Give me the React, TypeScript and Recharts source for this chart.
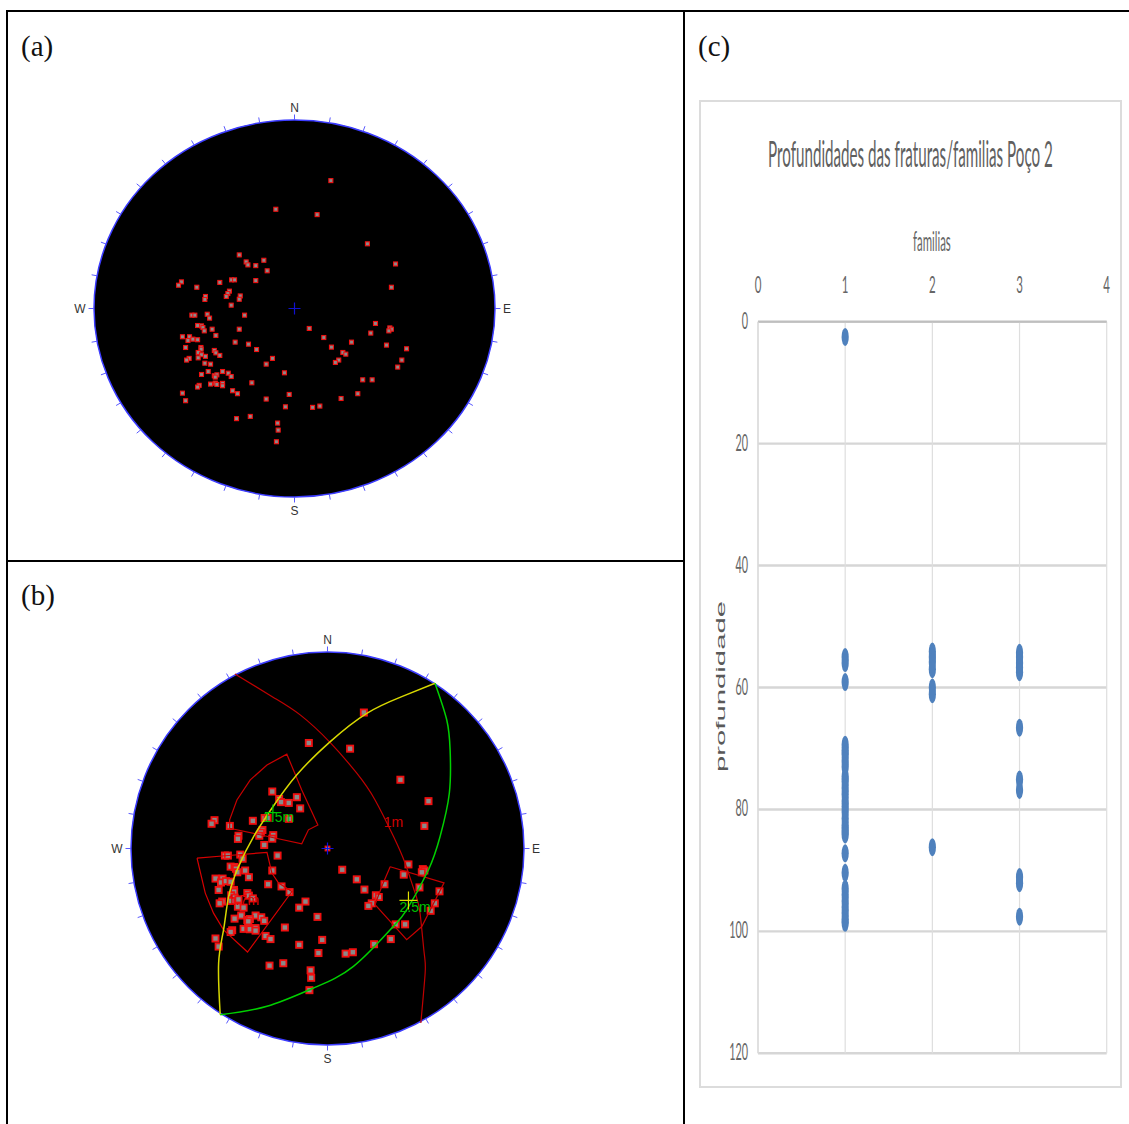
import React from 'react';
import {
  CartesianGrid,
  Scatter,
  ScatterChart,
  XAxis,
  YAxis,
} from 'recharts';

type Pt = { x: number; y: number };
const toPts = (rows: number[][]): Pt[] => rows.map(([x, y]) => ({ x, y }));

const poles = toPts([
  [18.5, 69.2], [-9.5, 53.7], [11.5, 50.8], [37.1, 35.0], [51.4, 24.1], [49.3, 11.5],
  [41.2, -8.1], [48.5, -10.5], [49.3, -11.2], [48.0, -12.1], [38.8, -13.3], [7.5, -10.8],
  [14.9, -15.7], [29.0, -18.2], [46.8, -19.8], [18.8, -20.9], [57.0, -21.8], [24.6, -23.8],
  [26.1, -24.7], [22.5, -27.9], [20.8, -29.2], [54.6, -27.9], [52.5, -31.7], [34.7, -38.6],
  [39.5, -38.6], [32.2, -46.1], [23.7, -48.7], [12.9, -52.8], [9.2, -53.5], [-2.7, -46.5],
  [-4.6, -53.2], [-5.1, -34.8], [-8.6, -62.0], [-8.3, -65.8], [-9.2, -72.1], [-14.4, -49.0],
  [-22.5, -58.4], [-29.5, -59.6], [-21.7, -40.2], [-11.2, -27.0], [-14.4, -30.1], [-19.3, -22.2],
  [-23.4, -19.3], [-30.2, -18.2], [-28.1, -11.2], [-25.4, -3.6], [-28.1, 29.0], [-24.6, 25.2],
  [-23.7, 23.6], [-19.7, 23.2], [-15.6, 26.1], [-13.9, 20.4], [-19.7, 15.1], [-32.0, 15.5],
  [-30.5, 15.5], [-38.0, 14.1], [-57.5, 14.4], [-59.0, 12.6], [-49.7, 11.5], [-33.1, 9.4],
  [-33.9, 8.1], [-34.7, 6.5], [-27.6, 6.8], [-28.1, 5.0], [-45.3, 6.5], [-45.6, 4.9],
  [-32.2, 1.8], [-52.2, -3.6], [-50.7, -3.6], [-44.4, -3.1], [-43.2, -5.2], [-49.3, -9.2],
  [-47.3, -9.4], [-46.6, -10.3], [-45.9, -12.1], [-41.9, -11.2], [-40.0, -14.6], [-57.0, -15.3],
  [-53.4, -15.3], [-54.2, -17.3], [-51.7, -16.6], [-49.3, -16.9], [-55.4, -21.1], [-47.6, -21.1],
  [-47.5, -22.0], [-40.8, -22.7], [-40.0, -24.0], [-38.0, -25.4], [-49.0, -23.8], [-47.3, -25.0],
  [-45.3, -25.9], [-49.0, -26.7], [-53.6, -27.0], [-54.9, -27.9], [-45.6, -29.6], [-42.7, -30.1],
  [-43.9, -34.1], [-47.3, -35.7], [-36.6, -34.1], [-33.7, -35.0], [-32.2, -36.8], [-40.8, -36.4],
  [-39.5, -35.9], [-40.3, -37.1], [-48.5, -41.6], [-49.3, -42.5], [-42.7, -40.9], [-40.3, -40.4],
  [-39.5, -41.1], [-36.6, -40.5], [-36.6, -41.8], [-31.5, -44.5], [-29.0, -46.1], [-57.0, -45.8],
  [-55.4, -49.9],
]);

const centrePole = toPts([[0, 0]]);
const centreMark = toPts([[0, 0]]);

// overlays on panel (b)
const redArc = toPts([
  [-47.1, 88.8], [-27.5, 76.9], [-13.9, 68.0], [1.4, 53.9], [14.9, 38.3], [24.2, 24.7], [33.6, 6.1],
  [39.5, -7.5], [44.6, -22.7], [47.1, -32.9], [49.2, -53.2], [49.7, -63.4], [47.5, -88.8],
]);
const yellowArc = toPts([
  [54.7, 84.1], [37.8, 77.3], [20.0, 68.8], [1.4, 54.4], [-15.6, 37.5], [-28.3, 20.5], [-37.6, 6.1],
  [-45.3, -9.2], [-50.3, -24.4], [-52.9, -41.4], [-55.4, -58.3], [-54.6, -84.6],
]);
const greenArc = toPts([
  [54.7, 84.1], [60.7, 65.4], [62.4, 50.2], [62.0, 28.1], [57.3, 6.1], [51.4, -10.8], [40.3, -31.2],
  [31.9, -41.4], [13.2, -60.0], [-7.1, -71.0], [-30.8, -80.3], [-54.6, -84.6],
]);
const windowNW = toPts([
  [-49.8, 10.3], [-49.8, 14.6], [-46.1, 24.7], [-39.3, 34.9], [-30.8, 42.5], [-20.7, 48.0],
  [-13.1, 29.8], [-4.9, 12.0], [-9.7, 9.5], [-13.1, 2.4], [-49.8, 10.3],
]);
const windowW = toPts([
  [-66.4, -4.9], [-52.0, -3.7], [-30.8, -2.0], [-28.3, -12.5], [-24.9, -17.6], [-18.1, -21.9],
  [-40.7, -52.7], [-52.9, -41.4], [-58.0, -32.9], [-62.2, -22.7], [-66.4, -4.9],
]);
const windowE = toPts([
  [31.9, -9.3], [59.3, -17.5], [48.0, -39.7], [40.3, -46.4], [24.2, -28.6], [27.6, -19.3], [31.9, -9.3],
]);
const greenCentroid = toPts([[-27.8, 18.3]]);
const yellowCentroid = toPts([[41.2, -26.4]]);
const setLabels = [
  { x: -24.9, y: 13.4, text: '1.5m', color: '#00c000' },
  { x: 44.6, y: -32.2, text: '2.5m', color: '#00c000' },
  { x: 33.6, y: 10.8, text: '1m', color: '#d00000' },
  { x: -42.7, y: -29.0, text: '1.7m', color: '#e00000' },
];

const rimAzimuths = [
  0, 10, 20, 30, 40, 50, 60, 70, 80, 90, 100, 110, 120, 130, 140, 150, 160, 170,
  180, 190, 200, 210, 220, 230, 240, 250, 260, 270, 280, 290, 300, 310, 320, 330, 340, 350,
];

// panel (c)
const familyTicks = [0, 1, 2, 3, 4];
const depthTicks = [0, 20, 40, 60, 80, 100, 120];
const family1Depths = [
  2.5, 55, 56, 59.1, 69.4, 70.3, 71, 72, 73, 74.6, 75.4, 76.5, 77.5, 78.6, 79.5, 80.4, 81.5, 82.6, 83.4, 84.1,
  87.2, 90.4, 93, 94, 95, 96, 97, 98, 98.6,
];
const family2Depths = [54.1, 55, 55.8, 57, 60, 61.1, 86.2];
const family3Depths = [54.3, 55, 56, 56.7, 57.5, 66.6, 75.1, 76.8, 91.1, 92.1, 97.6];

const RED = '#f01010';
const SERIF = '"Liberation Serif", serif';
const SANS = '"Liberation Sans", sans-serif';
const EXCEL = 'Lato, sans-serif';
const GREY_TEXT = '#666';

const noMark = () => null;

const poleMark = (size: number, border: number) => (p: any) => (
  <rect
    x={p.cx - size / 2}
    y={p.cy - size / 2}
    width={size}
    height={size}
    fill="#8a8a8a"
    stroke={RED}
    strokeWidth={border}
  />
);

const crossMark = (half: number, color: string, width = 1.2) => (p: any) => (
  <path
    d={`M${p.cx - half} ${p.cy}H${p.cx + half}M${p.cx} ${p.cy - half}V${p.cy + half}`}
    stroke={color}
    strokeWidth={width}
    fill="none"
  />
);

const noteMark = (p: any) => {
  const note = p.payload ?? p;
  return (
    <text x={p.cx} y={p.cy} textAnchor="middle" fontFamily={SANS} fontSize={14} fill={note.color}>
      {note.text}
    </text>
  );
};

function Rim({ cx, cy, rx, ry }: { cx: number; cy: number; rx: number; ry: number }) {
  const letters = [
    { t: 'N', x: cx, y: cy - ry - 12 },
    { t: 'E', x: cx + rx + 12, y: cy },
    { t: 'S', x: cx, y: cy + ry + 14 },
    { t: 'W', x: cx - rx - 14, y: cy },
  ];
  return (
    <g>
      <ellipse cx={cx} cy={cy} rx={rx} ry={ry} fill="#000" stroke="#3c3cff" strokeWidth={1.5} />
      {rimAzimuths.map((az) => {
        const a = (az * Math.PI) / 180;
        const s = Math.sin(a);
        const c = Math.cos(a);
        return (
          <line
            key={az}
            x1={cx + rx * s}
            y1={cy - ry * c}
            x2={cx + (rx + 5.5) * s}
            y2={cy - (ry + 5.5) * c}
            stroke="#5a5aff"
            strokeWidth={1}
          />
        );
      })}
      {letters.map((l) => (
        <text
          key={l.t}
          x={l.x}
          y={l.y + 4}
          textAnchor="middle"
          fontFamily={SANS}
          fontSize={12}
          fill="#333"
        >
          {l.t}
        </text>
      ))}
    </g>
  );
}

function Overlay({
  data,
  color,
  width = 1.2,
  smooth = false,
}: {
  data: Pt[];
  color: string;
  width?: number;
  smooth?: boolean;
}) {
  return (
    <Scatter
      data={data}
      line={{ stroke: color, strokeWidth: width }}
      lineJointType={smooth ? 'natural' : 'linear'}
      shape={noMark}
      isAnimationActive={false}
    />
  );
}

const PAD = 40;

function PanelA() {
  const rx = 200.5;
  const ry = 188.5;
  return (
    <div style={{ position: 'absolute', left: 94 - PAD, top: 120 - PAD }}>
      <ScatterChart
        width={2 * rx + 2 * PAD}
        height={2 * ry + 2 * PAD}
        margin={{ top: PAD, right: PAD, bottom: PAD, left: PAD }}
      >
        <XAxis type="number" dataKey="x" domain={[-102, 102]} hide />
        <YAxis type="number" dataKey="y" domain={[-102, 102]} hide />
        <Rim cx={PAD + rx} cy={PAD + ry} rx={rx} ry={ry} />
        <Scatter data={poles} shape={poleMark(4, 1.1)} isAnimationActive={false} />
        <Scatter data={centreMark} shape={crossMark(6, '#1010d0')} isAnimationActive={false} />
      </ScatterChart>
    </div>
  );
}

function PanelB() {
  const r = 196.5;
  return (
    <div style={{ position: 'absolute', left: 131 - PAD, top: 652 - PAD }}>
      <ScatterChart
        width={2 * r + 2 * PAD}
        height={2 * r + 2 * PAD}
        margin={{ top: PAD, right: PAD, bottom: PAD, left: PAD }}
      >
        <XAxis type="number" dataKey="x" domain={[-100, 100]} hide />
        <YAxis type="number" dataKey="y" domain={[-100, 100]} hide />
        <Rim cx={PAD + r} cy={PAD + r} rx={r} ry={r} />
        <Scatter data={poles} shape={poleMark(6.2, 1.8)} isAnimationActive={false} />
        <Scatter data={centrePole} shape={poleMark(4.5, 1.3)} isAnimationActive={false} />
        <Overlay data={redArc} color="#c00000" smooth />
        <Overlay data={windowNW} color="#c80000" />
        <Overlay data={windowW} color="#d80000" />
        <Overlay data={windowE} color="#c80000" />
        <Overlay data={yellowArc} color="#d8d800" width={1.5} smooth />
        <Overlay data={greenArc} color="#00d000" width={1.5} smooth />
        <Scatter data={centreMark} shape={crossMark(6, '#1010e0')} isAnimationActive={false} />
        <Scatter data={greenCentroid} shape={crossMark(8, '#00d000')} isAnimationActive={false} />
        <Scatter data={yellowCentroid} shape={crossMark(9, '#e0e000')} isAnimationActive={false} />
        <Scatter data={setLabels} shape={noteMark} isAnimationActive={false} />
      </ScatterChart>
    </div>
  );
}

const familyTick = (p: any) => (
  <text
    transform={`translate(${p.x},193) scale(0.5,1)`}
    textAnchor="middle"
    fontFamily={EXCEL}
    fontSize={23}
    fill={GREY_TEXT}
  >
    {p.payload.value}
  </text>
);

const depthTick = (p: any) => (
  <text
    transform={`translate(49,${p.y + 7}) scale(0.47,1)`}
    textAnchor="end"
    fontFamily={EXCEL}
    fontSize={23}
    fill={GREY_TEXT}
  >
    {p.payload.value}
  </text>
);

const depthMark = (p: any) => <ellipse cx={p.cx} cy={p.cy} rx={3.6} ry={9} fill="#4f81bd" />;

function PanelC() {
  const toRows = (family: number, depths: number[]) => depths.map((y) => ({ x: family, y }));
  return (
    <div style={{ position: 'absolute', left: 699, top: 100 }}>
      <ScatterChart
        width={423}
        height={988}
        margin={{ top: 191.7, right: 15.3, bottom: 34.7, left: 19 }}
      >
        <rect x={1} y={1} width={421} height={986} fill="none" stroke="#dcdcdc" strokeWidth={2} />
        <text
          transform="translate(69,67) scale(0.4,1)"
          textLength={712}
          lengthAdjust="spacingAndGlyphs"
          fontFamily={EXCEL}
          fontSize={36}
          fill="#5f5f5f"
        >
          Profundidades das fraturas/familias Poço 2
        </text>
        <text
          transform="translate(214,151) scale(0.45,1)"
          textLength={84}
          lengthAdjust="spacingAndGlyphs"
          fontFamily={EXCEL}
          fontSize={27}
          fill={GREY_TEXT}
        >
          familias
        </text>
        <text
          transform="translate(26,672) rotate(-90)"
          textLength={171}
          lengthAdjust="spacingAndGlyphs"
          fontFamily={SANS}
          fontSize={12}
          fill="#595959"
        >
          profundidade
        </text>
        <CartesianGrid vertical={false} stroke="#d6d6d6" strokeWidth={2.4} />
        <CartesianGrid horizontal={false} stroke="#dedede" strokeWidth={1.2} />
        <XAxis
          type="number"
          dataKey="x"
          orientation="top"
          domain={[0, 4]}
          ticks={familyTicks}
          height={30}
          tick={familyTick}
          tickLine={false}
          axisLine={{ stroke: '#bfbfbf', strokeWidth: 2 }}
        />
        <YAxis
          type="number"
          dataKey="y"
          reversed
          domain={[0, 120]}
          ticks={depthTicks}
          width={40}
          tick={depthTick}
          tickLine={false}
          axisLine={{ stroke: '#d9d9d9', strokeWidth: 1.2 }}
        />
        <Scatter data={toRows(1, family1Depths)} shape={depthMark} isAnimationActive={false} />
        <Scatter data={toRows(2, family2Depths)} shape={depthMark} isAnimationActive={false} />
        <Scatter data={toRows(3, family3Depths)} shape={depthMark} isAnimationActive={false} />
      </ScatterChart>
    </div>
  );
}

const rule: React.CSSProperties = { position: 'absolute', background: '#000' };
const caption: React.CSSProperties = {
  position: 'absolute',
  fontFamily: SERIF,
  fontSize: 29,
  lineHeight: '30px',
  color: '#111',
};

export default function App() {
  return (
    <div
      style={{
        position: 'absolute',
        left: 0,
        top: 0,
        width: 1129,
        height: 1124,
        overflow: 'hidden',
        background: '#fff',
      }}
    >
      <div style={{ ...rule, left: 6, top: 10, width: 1123, height: 2 }} />
      <div style={{ ...rule, left: 6, top: 10, width: 2, height: 1114 }} />
      <div style={{ ...rule, left: 683, top: 10, width: 2, height: 1114 }} />
      <div style={{ ...rule, left: 6, top: 560, width: 678, height: 2 }} />
      <div style={{ ...caption, left: 21, top: 31 }}>(a)</div>
      <div style={{ ...caption, left: 21, top: 580 }}>(b)</div>
      <div style={{ ...caption, left: 698, top: 31 }}>(c)</div>
      <PanelA />
      <PanelB />
      <PanelC />
    </div>
  );
}
